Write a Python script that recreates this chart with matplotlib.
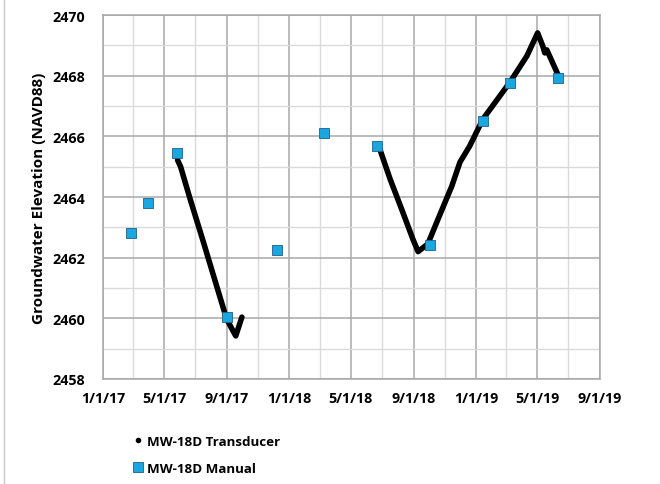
import datetime as dt

import matplotlib
matplotlib.use("Agg")
import matplotlib.dates as mdates
import matplotlib.pyplot as plt
from matplotlib.lines import Line2D
from matplotlib.ticker import FuncFormatter, MultipleLocator

# MW-18D transducer record, two deployment periods
transducer_2017_dates = ["2017-05-27", "2017-06-02", "2017-06-20", "2017-07-16",
                         "2017-08-31", "2017-09-18", "2017-09-30"]
transducer_2017_elev = [2465.22, 2465.00, 2463.97, 2462.55, 2459.98, 2459.42, 2460.04]

transducer_2018_dates = ["2018-06-27", "2018-07-17", "2018-08-11", "2018-08-31",
                         "2018-09-10", "2018-09-29", "2018-10-19", "2018-11-15",
                         "2018-12-01", "2018-12-20", "2019-01-15", "2019-03-09",
                         "2019-04-11", "2019-05-02", "2019-05-12", "2019-05-16",
                         "2019-05-20", "2019-06-12"]
transducer_2018_elev = [2465.58, 2464.60, 2463.50, 2462.60, 2462.20, 2462.45, 2463.27,
                        2464.36, 2465.15, 2465.68, 2466.57, 2467.79, 2468.65, 2469.41,
                        2468.98, 2468.75, 2468.85, 2467.99]

# MW-18D manual water level measurements
manual_dates = ["2017-02-24", "2017-03-31", "2017-05-26", "2017-08-31", "2017-12-07",
                "2018-03-09", "2018-06-22", "2018-10-03", "2019-01-15", "2019-03-09",
                "2019-06-11"]
manual_elev = [2462.82, 2463.80, 2465.45, 2460.04, 2462.26, 2466.11, 2465.68, 2462.43,
               2466.50, 2467.76, 2467.91]


def to_dates(values):
    return [dt.datetime.strptime(v, "%Y-%m-%d") for v in values]


def short_date(x, pos):
    d = mdates.num2date(x)
    return f"{d.month}/{d.day}/{d:%y}"


plt.rcParams["font.family"] = ["Open Sans", "DejaVu Sans"]
plt.rcParams["font.weight"] = "bold"

fig = plt.figure(figsize=(6.6, 4.85), dpi=100)
ax = fig.add_axes([0.156, 0.2165, 0.753, 0.7505])

for dates, elev in [(transducer_2017_dates, transducer_2017_elev),
                    (transducer_2018_dates, transducer_2018_elev)]:
    ax.plot(to_dates(dates), elev, color="black", lw=4, solid_capstyle="round",
            solid_joinstyle="round", zorder=3)

ax.plot(to_dates(manual_dates), manual_elev, ls="none", marker="s", ms=6.5,
        mfc="#1aa7e0", mec="#1f5f8a", mew=0.6, zorder=4)

ax.set_xlim(dt.datetime(2017, 1, 1), dt.datetime(2019, 9, 1))
ax.set_ylim(2458, 2470)
ax.xaxis.set_major_locator(mdates.MonthLocator(bymonth=[1, 5, 9]))
ax.xaxis.set_minor_locator(mdates.MonthLocator(bymonth=[3, 7, 11]))
ax.xaxis.set_major_formatter(FuncFormatter(short_date))
ax.yaxis.set_major_locator(MultipleLocator(2))
ax.yaxis.set_minor_locator(MultipleLocator(1))

ax.grid(which="major", color="#a8a8a8", lw=1.1)
ax.grid(which="minor", color="#dadada", lw=1.0)
ax.set_axisbelow(True)
for spine in ax.spines.values():
    spine.set_color("#a8a8a8")
    spine.set_linewidth(1.1)
ax.tick_params(which="both", length=0, labelsize=10.3, colors="black")
ax.tick_params(axis="x", pad=9)
ax.tick_params(axis="y", pad=13)

ax.set_ylabel("Groundwater Elevation (NAVD88)", fontsize=11, fontweight="bold", labelpad=4)

handles = [
    Line2D([], [], color="black", marker="o", ms=3, ls="none"),
    Line2D([], [], color="#1aa7e0", marker="s", ms=6.5, mec="#1f5f8a", mew=0.6, ls="none"),
]
fig.legend(handles, ["MW-18D Transducer", "MW-18D Manual"], loc="upper left",
           bbox_to_anchor=(0.195, 0.112), frameon=False, fontsize=9.6,
           handlelength=0.6, handletextpad=0.4, labelspacing=1.05, borderaxespad=0)

fig.add_artist(Line2D([0.006, 0.006], [0.0, 1.0], transform=fig.transFigure,
                      color="#c8c8c8", lw=1))

fig.savefig("out.png", dpi=100)
